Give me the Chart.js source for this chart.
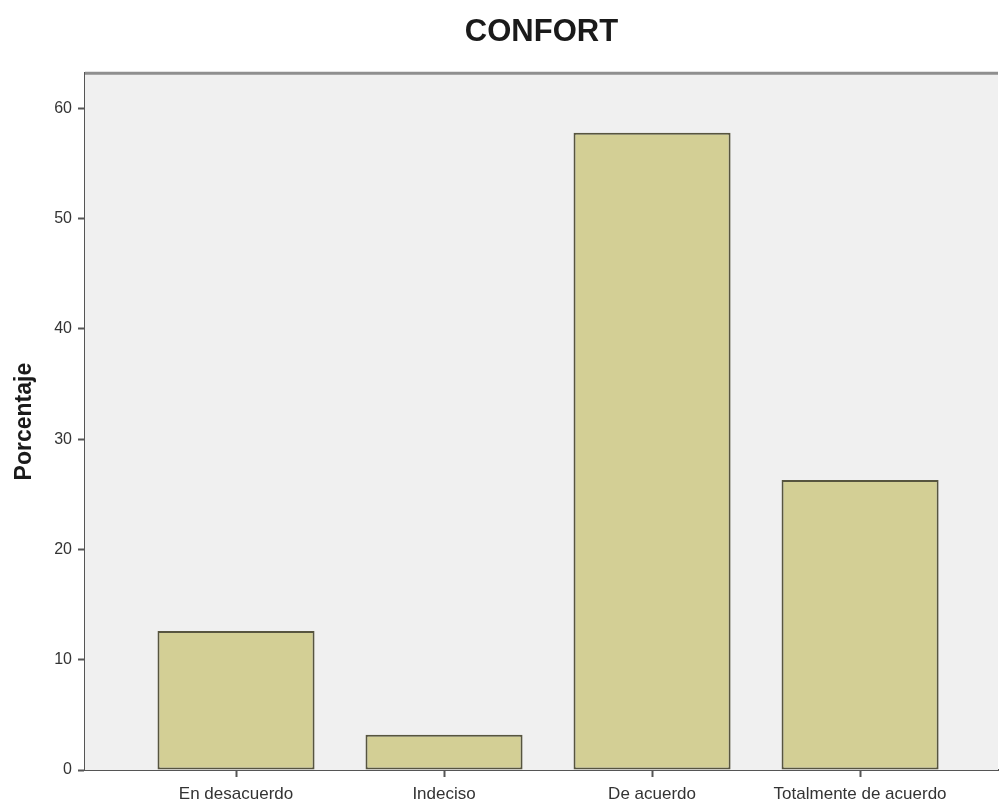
<!DOCTYPE html>
<html>
<head>
<meta charset="utf-8">
<script src="https://cdn.jsdelivr.net/npm/chart.js@4/dist/chart.umd.min.js"></script>
<style>
  html, body { margin: 0; padding: 0; background: #ffffff; }
  #wrap { width: 1000px; height: 805px; }
</style>
</head>
<body>
<div id="wrap"><canvas id="c" width="1000" height="805"></canvas></div>
<script>
const categories = ["En desacuerdo", "Indeciso", "De acuerdo", "Totalmente de acuerdo"];
const percentages = [12.6, 3.2, 57.8, 26.3];
const yTicks = [0, 10, 20, 30, 40, 50, 60];
const chartTitle = "CONFORT";
const yTitle = "Porcentaje";

const plotFrame = {
  id: 'plotFrame',
  beforeDatasetsDraw(chart) {
    const {ctx, chartArea: a} = chart;
    ctx.save();
    ctx.fillStyle = '#f0f0f0';
    ctx.fillRect(a.left, a.top, a.right - a.left, a.bottom - a.top);
    ctx.strokeStyle = '#8f8f8f';
    ctx.lineWidth = 3;
    ctx.beginPath();
    ctx.moveTo(a.left, a.top);
    ctx.lineTo(a.right, a.top);
    ctx.stroke();
    ctx.restore();
  }
};

new Chart(document.getElementById('c'), {
  type: 'bar',
  data: {
    datasets: [{
      data: percentages.map((v, i) => ({x: i, y: v})),
      backgroundColor: '#d3cf95',
      borderColor: '#57553f',
      borderWidth: 2,
      borderSkipped: false,
      barPercentage: 0.755,
      categoryPercentage: 1
    }]
  },
  options: {
    responsive: false,
    animation: false,
    layout: { padding: { left: 0, right: 2, top: 0, bottom: 0 } },
    plugins: {
      legend: { display: false },
      tooltip: { enabled: false },
      title: {
        display: true,
        text: chartTitle,
        fullSize: false,
        color: '#1a1a1a',
        font: { family: 'Liberation Sans, Arial, sans-serif', size: 31, weight: 'bold' },
        padding: { top: 14, bottom: 22 }
      }
    },
    scales: {
      x: {
        type: 'linear',
        offset: false,
        min: -0.726,
        max: 3.663,
        afterBuildTicks: (axis) => { axis.ticks = categories.map((c, i) => ({ value: i })); },
        afterFit: (scale) => { scale.height = 35; },
        grid: { offset: false, drawOnChartArea: false, drawTicks: true, tickLength: 7, tickColor: '#555555', tickWidth: 2 },
        border: { display: true, color: '#555555', width: 2 },
        ticks: {
          autoSkip: false,
          maxRotation: 0,
          padding: 7,
          color: '#333333',
          font: { family: 'Liberation Sans, Arial, sans-serif', size: 17 },
          callback: (v) => categories[v] !== undefined ? categories[v] : ''
        }
      },
      y: {
        min: 0,
        max: 63.2,
        afterBuildTicks: (axis) => { axis.ticks = yTicks.map(v => ({ value: v })); },
        afterFit: (scale) => { scale.width = 85; },
        grid: { drawOnChartArea: false, drawTicks: true, tickLength: 7, tickColor: '#555555', tickWidth: 2 },
        border: { display: true, color: '#555555', width: 2 },
        ticks: {
          padding: 6,
          color: '#333333',
          font: { family: 'Liberation Sans, Arial, sans-serif', size: 16 }
        },
        title: {
          display: true,
          text: yTitle,
          color: '#1a1a1a',
          font: { family: 'Liberation Sans, Arial, sans-serif', size: 23, weight: 'bold' },
          padding: { top: 11, bottom: 0 }
        }
      }
    }
  },
  plugins: [plotFrame]
});
</script>
</body>
</html>
